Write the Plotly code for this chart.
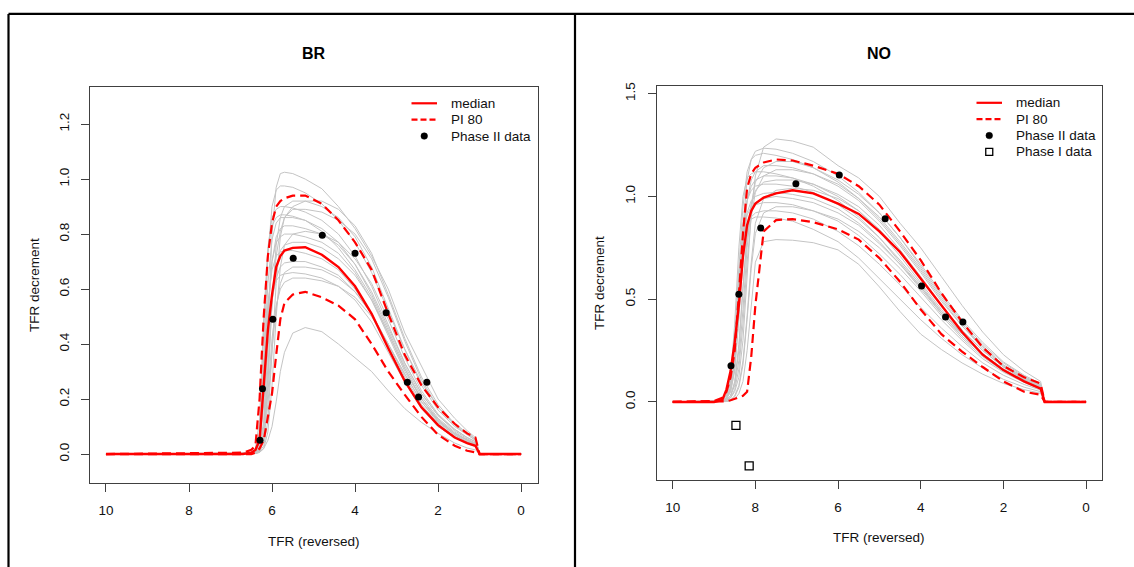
import plotly.graph_objects as go

# ---------------------------------------------------------------- data
# TFR grid (reversed axis) for the BR panel
X_BR = [10.0, 6.7, 6.5, 6.4, 6.3, 6.2, 6.1, 6.0, 5.9, 5.8, 5.7, 5.5, 5.2,
        4.8, 4.4, 4.0, 3.6, 3.2, 2.8, 2.4, 2.0, 1.6, 1.3, 1.1, 1.0, 0.0]

BR_MEDIAN = [0, 0, 0.005, 0.015, 0.05, 0.27, 0.45, 0.58, 0.68, 0.72, 0.74, 0.75, 0.752,
             0.725, 0.68, 0.61, 0.51, 0.385, 0.265, 0.17, 0.105, 0.06, 0.04, 0.03, 0, 0]
BR_PI_HI = [0, 0.005, 0.015, 0.03, 0.2, 0.5, 0.72, 0.84, 0.9, 0.92, 0.93, 0.94, 0.94,
            0.91, 0.85, 0.77, 0.67, 0.51, 0.36, 0.25, 0.17, 0.11, 0.075, 0.06, 0, 0]
BR_PI_LO = [0, 0, 0, 0.005, 0.02, 0.05, 0.13, 0.22, 0.36, 0.49, 0.55, 0.58, 0.59,
            0.57, 0.54, 0.49, 0.40, 0.30, 0.215, 0.135, 0.07, 0.03, 0.012, 0.006, 0, 0]

# simulated BR trajectories
BR_T01 = [0, 0, 0, 0.005, 0.02, 0.10, 0.45, 0.80, 0.97, 1.02, 1.025, 1.02, 1.0, 0.965, 0.90, 0.82, 0.72, 0.60, 0.44, 0.32, 0.20, 0.13, 0.085, 0.06, 0, 0]
BR_T02 = [0, 0, 0.003, 0.01, 0.06, 0.35, 0.72, 0.90, 0.96, 0.975, 0.975, 0.97, 0.95, 0.91, 0.85, 0.77, 0.66, 0.52, 0.38, 0.26, 0.17, 0.11, 0.075, 0.055, 0, 0]
BR_T03 = [0, 0, 0, 0.003, 0.01, 0.05, 0.25, 0.55, 0.76, 0.86, 0.90, 0.92, 0.92, 0.90, 0.86, 0.79, 0.68, 0.53, 0.38, 0.25, 0.16, 0.10, 0.07, 0.05, 0, 0]
BR_T04 = [0, 0.002, 0.006, 0.015, 0.08, 0.45, 0.75, 0.86, 0.89, 0.90, 0.90, 0.895, 0.88, 0.85, 0.80, 0.72, 0.61, 0.47, 0.33, 0.22, 0.14, 0.085, 0.055, 0.04, 0, 0]
BR_T05 = [0, 0, 0, 0.002, 0.008, 0.03, 0.12, 0.35, 0.62, 0.79, 0.86, 0.89, 0.89, 0.88, 0.85, 0.80, 0.71, 0.57, 0.41, 0.27, 0.17, 0.105, 0.07, 0.05, 0, 0]
BR_T06 = [0, 0.002, 0.005, 0.012, 0.05, 0.30, 0.62, 0.78, 0.84, 0.86, 0.86, 0.86, 0.85, 0.82, 0.77, 0.69, 0.58, 0.45, 0.32, 0.21, 0.13, 0.08, 0.05, 0.035, 0, 0]
BR_T07 = [0, 0, 0.002, 0.008, 0.03, 0.18, 0.50, 0.70, 0.79, 0.82, 0.83, 0.83, 0.82, 0.80, 0.76, 0.69, 0.59, 0.46, 0.33, 0.22, 0.14, 0.09, 0.06, 0.045, 0, 0]
BR_T08 = [0, 0, 0, 0.002, 0.006, 0.02, 0.08, 0.25, 0.50, 0.68, 0.76, 0.80, 0.81, 0.80, 0.77, 0.71, 0.62, 0.49, 0.35, 0.23, 0.145, 0.09, 0.06, 0.045, 0, 0]
BR_T09 = [0, 0, 0.002, 0.01, 0.04, 0.22, 0.52, 0.70, 0.77, 0.79, 0.80, 0.80, 0.79, 0.77, 0.73, 0.66, 0.56, 0.43, 0.30, 0.20, 0.12, 0.075, 0.05, 0.035, 0, 0]
BR_T10 = [0, 0, 0, 0.004, 0.015, 0.08, 0.30, 0.55, 0.68, 0.74, 0.76, 0.77, 0.77, 0.75, 0.71, 0.65, 0.56, 0.44, 0.31, 0.20, 0.125, 0.075, 0.05, 0.038, 0, 0]
BR_T11 = [0, 0.002, 0.005, 0.012, 0.05, 0.28, 0.55, 0.67, 0.72, 0.735, 0.74, 0.74, 0.73, 0.71, 0.67, 0.60, 0.51, 0.39, 0.27, 0.17, 0.10, 0.06, 0.04, 0.03, 0, 0]
BR_T12 = [0, 0, 0.002, 0.006, 0.025, 0.12, 0.38, 0.56, 0.64, 0.68, 0.695, 0.70, 0.70, 0.68, 0.65, 0.59, 0.51, 0.40, 0.29, 0.19, 0.115, 0.07, 0.045, 0.033, 0, 0]
BR_T13 = [0, 0, 0, 0.003, 0.01, 0.05, 0.18, 0.38, 0.53, 0.62, 0.66, 0.68, 0.68, 0.67, 0.64, 0.59, 0.51, 0.40, 0.28, 0.18, 0.11, 0.065, 0.042, 0.03, 0, 0]
BR_T14 = [0, 0.002, 0.004, 0.01, 0.04, 0.22, 0.46, 0.58, 0.63, 0.65, 0.655, 0.66, 0.655, 0.64, 0.61, 0.56, 0.48, 0.37, 0.26, 0.165, 0.10, 0.06, 0.038, 0.028, 0, 0]
BR_T15 = [0, 0, 0, 0.003, 0.012, 0.06, 0.22, 0.42, 0.54, 0.60, 0.625, 0.64, 0.64, 0.63, 0.61, 0.57, 0.50, 0.40, 0.29, 0.19, 0.12, 0.07, 0.045, 0.033, 0, 0]
BR_T16 = [0, 0, 0, 0.002, 0.006, 0.02, 0.05, 0.10, 0.19, 0.30, 0.37, 0.44, 0.46, 0.445, 0.40, 0.35, 0.30, 0.23, 0.165, 0.115, 0.075, 0.04, 0.022, 0.015, 0, 0]
BR_T17 = [0, 0, 0, 0.004, 0.015, 0.07, 0.28, 0.55, 0.72, 0.81, 0.86, 0.90, 0.92, 0.92, 0.89, 0.83, 0.73, 0.58, 0.42, 0.28, 0.18, 0.11, 0.075, 0.055, 0, 0]
BR_T18 = [0, 0.003, 0.008, 0.02, 0.12, 0.50, 0.74, 0.83, 0.86, 0.87, 0.87, 0.865, 0.85, 0.81, 0.75, 0.67, 0.57, 0.44, 0.31, 0.20, 0.125, 0.075, 0.05, 0.036, 0, 0]

# observed BR data (Phase II)
BR_OBS_X = [6.29, 6.23, 5.98, 5.49, 4.79, 4.0, 3.25, 2.74, 2.47, 2.27]
BR_OBS_Y = [0.05, 0.237, 0.49, 0.712, 0.796, 0.73, 0.514, 0.261, 0.207, 0.261]

# TFR grid for the NO panel
X_NO = [10.0, 9.0, 8.8, 8.7, 8.6, 8.5, 8.4, 8.3, 8.2, 8.1, 8.0, 7.8, 7.5, 7.1,
        6.6, 6.0, 5.5, 5.0, 4.5, 4.0, 3.5, 3.0, 2.5, 2.0, 1.5, 1.1, 1.0, 0.0]

NO_MEDIAN = [0, 0, 0.01, 0.06, 0.15, 0.29, 0.47, 0.71, 0.86, 0.93, 0.965, 0.995, 1.015, 1.03,
             1.015, 0.965, 0.915, 0.83, 0.73, 0.60, 0.47, 0.34, 0.23, 0.155, 0.10, 0.065, 0, 0]
NO_PI_HI = [0, 0.005, 0.02, 0.05, 0.12, 0.25, 0.52, 0.82, 1.04, 1.11, 1.14, 1.165, 1.18, 1.175,
            1.15, 1.11, 1.05, 0.96, 0.83, 0.69, 0.53, 0.39, 0.265, 0.175, 0.12, 0.09, 0, 0]
NO_PI_LO = [0, 0, 0, 0.003, 0.008, 0.015, 0.025, 0.03, 0.05, 0.22, 0.47, 0.83, 0.885, 0.89,
            0.875, 0.84, 0.79, 0.70, 0.585, 0.45, 0.33, 0.245, 0.17, 0.10, 0.05, 0.035, 0, 0]

# simulated NO trajectories
NO_T01 = [0, 0, 0.003, 0.008, 0.02, 0.05, 0.12, 0.30, 0.62, 0.92, 1.10, 1.24, 1.28, 1.27, 1.24, 1.15, 1.09, 1.00, 0.87, 0.75, 0.61, 0.47, 0.34, 0.23, 0.15, 0.10, 0, 0]
NO_T02 = [0, 0.002, 0.008, 0.02, 0.06, 0.20, 0.50, 0.85, 1.08, 1.18, 1.22, 1.235, 1.23, 1.21, 1.17, 1.10, 1.02, 0.92, 0.80, 0.66, 0.52, 0.39, 0.28, 0.19, 0.125, 0.085, 0, 0]
NO_T03 = [0, 0.003, 0.01, 0.03, 0.10, 0.30, 0.65, 0.95, 1.12, 1.18, 1.20, 1.21, 1.20, 1.18, 1.14, 1.07, 0.99, 0.89, 0.77, 0.64, 0.50, 0.37, 0.27, 0.18, 0.12, 0.08, 0, 0]
NO_T04 = [0, 0, 0.003, 0.01, 0.03, 0.08, 0.20, 0.45, 0.75, 0.96, 1.07, 1.14, 1.17, 1.17, 1.14, 1.08, 1.01, 0.92, 0.80, 0.67, 0.53, 0.40, 0.29, 0.195, 0.13, 0.09, 0, 0]
NO_T05 = [0, 0.002, 0.006, 0.015, 0.05, 0.15, 0.40, 0.75, 0.98, 1.08, 1.12, 1.15, 1.15, 1.14, 1.11, 1.05, 0.98, 0.88, 0.76, 0.63, 0.49, 0.37, 0.26, 0.175, 0.115, 0.08, 0, 0]
NO_T06 = [0, 0, 0.002, 0.006, 0.02, 0.06, 0.16, 0.38, 0.68, 0.90, 1.02, 1.10, 1.13, 1.13, 1.11, 1.06, 0.99, 0.90, 0.78, 0.65, 0.51, 0.38, 0.27, 0.18, 0.12, 0.08, 0, 0]
NO_T07 = [0, 0.002, 0.008, 0.02, 0.07, 0.22, 0.52, 0.82, 0.98, 1.05, 1.08, 1.10, 1.10, 1.09, 1.06, 1.00, 0.93, 0.83, 0.71, 0.58, 0.45, 0.33, 0.235, 0.16, 0.105, 0.07, 0, 0]
NO_T08 = [0, 0, 0.003, 0.01, 0.03, 0.09, 0.25, 0.55, 0.82, 0.96, 1.03, 1.07, 1.08, 1.08, 1.06, 1.01, 0.95, 0.86, 0.74, 0.61, 0.47, 0.35, 0.25, 0.17, 0.11, 0.075, 0, 0]
NO_T09 = [0, 0.003, 0.01, 0.03, 0.09, 0.28, 0.60, 0.86, 0.98, 1.03, 1.05, 1.06, 1.06, 1.05, 1.02, 0.96, 0.89, 0.80, 0.69, 0.57, 0.44, 0.33, 0.235, 0.16, 0.105, 0.07, 0, 0]
NO_T10 = [0, 0, 0, 0.003, 0.01, 0.03, 0.08, 0.20, 0.42, 0.68, 0.87, 0.99, 1.03, 1.04, 1.03, 0.99, 0.93, 0.84, 0.73, 0.60, 0.47, 0.35, 0.25, 0.17, 0.11, 0.075, 0, 0]
NO_T11 = [0, 0.002, 0.006, 0.018, 0.06, 0.20, 0.48, 0.76, 0.92, 0.98, 1.00, 1.015, 1.02, 1.01, 0.99, 0.94, 0.87, 0.78, 0.67, 0.55, 0.43, 0.32, 0.23, 0.155, 0.10, 0.068, 0, 0]
NO_T12 = [0, 0, 0.003, 0.01, 0.03, 0.10, 0.28, 0.56, 0.80, 0.92, 0.97, 0.99, 1.00, 0.99, 0.97, 0.92, 0.86, 0.77, 0.67, 0.56, 0.44, 0.33, 0.235, 0.16, 0.105, 0.07, 0, 0]
NO_T13 = [0, 0.002, 0.008, 0.02, 0.07, 0.24, 0.55, 0.80, 0.91, 0.95, 0.96, 0.97, 0.97, 0.96, 0.93, 0.88, 0.81, 0.72, 0.62, 0.51, 0.40, 0.30, 0.21, 0.145, 0.095, 0.063, 0, 0]
NO_T14 = [0, 0, 0, 0.002, 0.008, 0.025, 0.07, 0.18, 0.40, 0.65, 0.82, 0.92, 0.95, 0.95, 0.93, 0.89, 0.83, 0.75, 0.65, 0.54, 0.42, 0.31, 0.22, 0.15, 0.10, 0.065, 0, 0]
NO_T15 = [0, 0.002, 0.005, 0.015, 0.05, 0.16, 0.40, 0.68, 0.84, 0.90, 0.92, 0.93, 0.93, 0.92, 0.89, 0.83, 0.76, 0.67, 0.57, 0.46, 0.36, 0.27, 0.19, 0.13, 0.085, 0.058, 0, 0]
NO_T16 = [0, 0, 0, 0.002, 0.006, 0.015, 0.04, 0.10, 0.25, 0.48, 0.68, 0.78, 0.79, 0.787, 0.775, 0.74, 0.67, 0.56, 0.44, 0.33, 0.255, 0.19, 0.135, 0.09, 0.06, 0.042, 0, 0]
NO_T17 = [0, 0.003, 0.01, 0.03, 0.10, 0.32, 0.62, 0.80, 0.87, 0.89, 0.90, 0.90, 0.895, 0.88, 0.84, 0.78, 0.70, 0.60, 0.50, 0.40, 0.31, 0.23, 0.165, 0.11, 0.072, 0.05, 0, 0]
NO_T18 = [0, 0.004, 0.012, 0.035, 0.12, 0.38, 0.75, 1.00, 1.09, 1.11, 1.12, 1.12, 1.11, 1.09, 1.05, 0.98, 0.90, 0.80, 0.68, 0.56, 0.43, 0.32, 0.23, 0.155, 0.10, 0.07, 0, 0]

# observed NO data
NO_OBS2_X = [8.59, 8.40, 7.87, 7.02, 5.97, 4.86, 3.98, 3.40, 2.98]
NO_OBS2_Y = [0.176, 0.524, 0.846, 1.062, 1.105, 0.891, 0.564, 0.414, 0.389]
NO_OBS1_X = [8.47, 8.15]
NO_OBS1_Y = [-0.114, -0.311]

X_TICKS = [0, 2, 4, 6, 8, 10]
BR_Y_TICKS = [0.0, 0.2, 0.4, 0.6, 0.8, 1.0, 1.2]
NO_Y_TICKS = [0.0, 0.5, 1.0, 1.5]

BR_TRAJ = [BR_T01, BR_T02, BR_T03, BR_T04, BR_T05, BR_T06, BR_T07, BR_T08, BR_T09,
           BR_T10, BR_T11, BR_T12, BR_T13, BR_T14, BR_T15, BR_T16, BR_T17, BR_T18]
NO_TRAJ = [NO_T01, NO_T02, NO_T03, NO_T04, NO_T05, NO_T06, NO_T07, NO_T08, NO_T09,
           NO_T10, NO_T11, NO_T12, NO_T13, NO_T14, NO_T15, NO_T16, NO_T17, NO_T18]

# ---------------------------------------------------------------- styling
W, H = 1134, 567
FONT = "Liberation Sans, Arial, sans-serif"
FS = 13.5
RED = "#ff0000"
GREY = "#c4c4c4"
AXC = "#404040"
DASH = "9px,5px"


def fx(px):
    return px / W


def fy(py):
    return 1 - py / H


fig = go.Figure()


def add_panel(xa, ya, xgrid, traj, med, lo, hi):
    for t in traj:
        fig.add_trace(go.Scatter(x=xgrid, y=t, mode="lines", xaxis=xa, yaxis=ya,
                                 line=dict(color=GREY, width=1), hoverinfo="skip",
                                 showlegend=False))
    fig.add_trace(go.Scatter(x=xgrid, y=hi, mode="lines", xaxis=xa, yaxis=ya,
                             line=dict(color=RED, width=2.2, dash=DASH), showlegend=False))
    fig.add_trace(go.Scatter(x=xgrid, y=lo, mode="lines", xaxis=xa, yaxis=ya,
                             line=dict(color=RED, width=2.2, dash=DASH), showlegend=False))
    fig.add_trace(go.Scatter(x=xgrid, y=med, mode="lines", xaxis=xa, yaxis=ya,
                             line=dict(color=RED, width=2.4), showlegend=False))


add_panel("x", "y", X_BR, BR_TRAJ, BR_MEDIAN, BR_PI_LO, BR_PI_HI)
add_panel("x2", "y2", X_NO, NO_TRAJ, NO_MEDIAN, NO_PI_LO, NO_PI_HI)

fig.add_trace(go.Scatter(x=BR_OBS_X, y=BR_OBS_Y, mode="markers", xaxis="x", yaxis="y",
                         marker=dict(color="black", size=7), showlegend=False))
fig.add_trace(go.Scatter(x=NO_OBS2_X, y=NO_OBS2_Y, mode="markers", xaxis="x2", yaxis="y2",
                         marker=dict(color="black", size=7), showlegend=False))
fig.add_trace(go.Scatter(x=NO_OBS1_X, y=NO_OBS1_Y, mode="markers", xaxis="x2", yaxis="y2",
                         marker=dict(symbol="square-open", color="black", size=8,
                                     line=dict(width=1.3, color="black")),
                         showlegend=False))

axis_common = dict(showgrid=False, zeroline=False, showline=True, mirror=True,
                   linecolor=AXC, linewidth=1, ticks="outside", ticklen=8,
                   tickcolor=AXC, tickwidth=1, ticklabelstandoff=7,
                   tickfont=dict(family=FONT, size=FS, color="#111"))

fig.update_layout(
    width=W, height=H, autosize=False,
    margin=dict(l=0, r=0, t=0, b=0),
    paper_bgcolor="white", plot_bgcolor="white",
    showlegend=False,
    xaxis=dict(domain=[fx(90), fx(537.7)], range=[10.385, -0.4], anchor="y",
               tickvals=X_TICKS, ticktext=[str(v) for v in X_TICKS], **axis_common),
    yaxis=dict(domain=[fy(482.3), fy(83.3)], range=[-0.105, 1.336], anchor="x",
               tickvals=BR_Y_TICKS, ticktext=[f"{v:.1f}" for v in BR_Y_TICKS],
               tickangle=-90, **axis_common),
    xaxis2=dict(domain=[fx(656.7), fx(1101.7)], range=[10.387, -0.378], anchor="y2",
                tickvals=X_TICKS, ticktext=[str(v) for v in X_TICKS], **axis_common),
    yaxis2=dict(domain=[fy(479), fy(82.7)], range=[-0.378, 1.537], anchor="x2",
                tickvals=NO_Y_TICKS, ticktext=[f"{v:.1f}" for v in NO_Y_TICKS],
                tickangle=-90, **axis_common),
)

ann = []
shapes = []

# panel titles and axis titles
for cx, ty, lbl, xt_y, yt_x, cy in [(313.9, 50, "BR", 541, 34, 283),
                                     (879.2, 50, "NO", 537, 599, 281)]:
    ann.append(dict(x=fx(cx), y=fy(ty), xref="paper", yref="paper", text=f"<b>{lbl}</b>",
                    showarrow=False, font=dict(family=FONT, size=16, color="black"),
                    xanchor="center", yanchor="middle"))
    ann.append(dict(x=fx(cx), y=fy(xt_y), xref="paper", yref="paper", text="TFR (reversed)",
                    showarrow=False, font=dict(family=FONT, size=FS, color="#111"),
                    xanchor="center", yanchor="middle"))
    ann.append(dict(x=fx(yt_x), y=fy(cy), xref="paper", yref="paper", text="TFR decrement",
                    showarrow=False, textangle=-90, font=dict(family=FONT, size=FS, color="#111"),
                    xanchor="center", yanchor="middle"))


# legends
def legend(x_line0, x_line1, x_text, rows, labels, kinds):
    xm = (x_line0 + x_line1) / 2
    for ry, lab, kind in zip(rows, labels, kinds):
        if kind in ("solid", "dash"):
            shapes.append(dict(type="line", xref="paper", yref="paper",
                               x0=fx(x_line0), x1=fx(x_line1), y0=fy(ry), y1=fy(ry),
                               line=dict(color=RED, width=2.2,
                                         dash="solid" if kind == "solid" else "6px,3px")))
        elif kind == "dot":
            shapes.append(dict(type="circle", xref="paper", yref="paper",
                               x0=fx(xm - 3.3), x1=fx(xm + 3.3), y0=fy(ry + 3.3), y1=fy(ry - 3.3),
                               fillcolor="black", line=dict(color="black", width=0.5)))
        else:
            shapes.append(dict(type="rect", xref="paper", yref="paper",
                               x0=fx(xm - 3.5), x1=fx(xm + 3.5), y0=fy(ry + 3.5), y1=fy(ry - 3.5),
                               fillcolor="white", line=dict(color="black", width=1.3)))
        ann.append(dict(x=fx(x_text), y=fy(ry), xref="paper", yref="paper", text=lab,
                        showarrow=False, font=dict(family=FONT, size=FS, color="#111"),
                        xanchor="left", yanchor="middle"))


legend(411.5, 437, 449, [100, 116.5, 133], ["median", "PI 80", "Phase II data"],
       ["solid", "dash", "dot"])
legend(976.5, 1002, 1014, [99.5, 116, 132.5, 149],
       ["median", "PI 80", "Phase II data", "Phase I data"],
       ["solid", "dash", "dot", "square"])

# outer frame of the two panels
for x0, y0, x1, y1 in [(8.5, 10, W, 10), (8.5, 10, 8.5, H), (575, 10, 575, H)]:
    shapes.append(dict(type="line", xref="paper", yref="paper",
                       x0=fx(x0), x1=fx(x1), y0=fy(y0), y1=fy(y1),
                       line=dict(color="black", width=2.2)))

fig.update_layout(annotations=ann, shapes=shapes)
fig.write_html("out.html")
